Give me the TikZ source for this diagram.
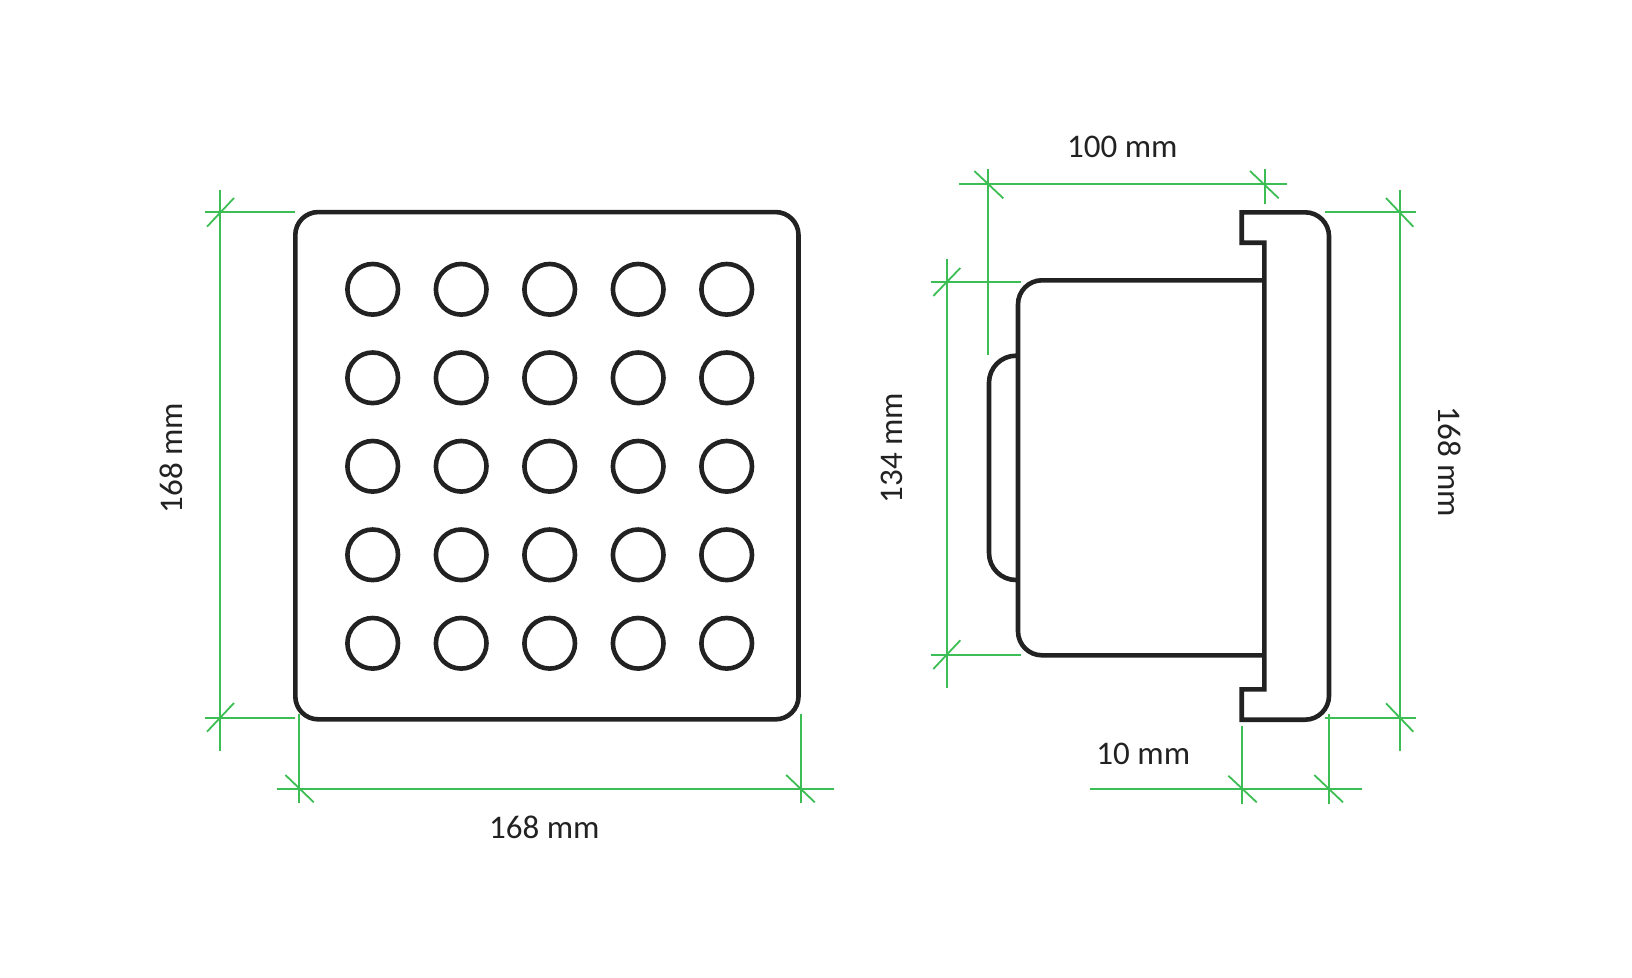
\documentclass[tikz,border=0pt]{standalone}
\usepackage{fontspec}
\setmainfont{Carlito}
\definecolor{dimgreen}{HTML}{3DBE55}
\definecolor{inkblack}{HTML}{222222}
\begin{document}
\begin{tikzpicture}[
		x=1pt, y=-1pt,
		every node/.style={font=\fontsize{33}{36}\selectfont, text=inkblack},
		outline/.style={draw=inkblack, line width=4.6pt, line join=miter},
		plate/.style={rectangle, outline, rounded corners=23pt, minimum width=503.2pt, minimum height=507.3pt},
		hole/.style={circle, outline, inner sep=0pt, minimum size=50.6pt},
		dim/.style={draw=dimgreen, line width=1.8pt}
		]
		
		% Page
		\useasboundingbox (0,0) rectangle (1632,977);
		
		% -------- Front view --------
		\node[plate] (front) at (546.9,465.7) {};
		
		% -------- Holes --------
		\node[hole] (h11) at (372.7,289.3) {};
		\node[hole] (h12) at (461.2,289.3) {};
		\node[hole] (h13) at (549.7,289.3) {};
		\node[hole] (h14) at (638.2,289.3) {};
		\node[hole] (h15) at (726.7,289.3) {};
		\node[hole] (h21) at (372.7,377.8) {};
		\node[hole] (h22) at (461.2,377.8) {};
		\node[hole] (h23) at (549.7,377.8) {};
		\node[hole] (h24) at (638.2,377.8) {};
		\node[hole] (h25) at (726.7,377.8) {};
		\node[hole] (h31) at (372.7,466.3) {};
		\node[hole] (h32) at (461.2,466.3) {};
		\node[hole] (h33) at (549.7,466.3) {};
		\node[hole] (h34) at (638.2,466.3) {};
		\node[hole] (h35) at (726.7,466.3) {};
		\node[hole] (h41) at (372.7,554.8) {};
		\node[hole] (h42) at (461.2,554.8) {};
		\node[hole] (h43) at (549.7,554.8) {};
		\node[hole] (h44) at (638.2,554.8) {};
		\node[hole] (h45) at (726.7,554.8) {};
		\node[hole] (h51) at (372.7,643.3) {};
		\node[hole] (h52) at (461.2,643.3) {};
		\node[hole] (h53) at (549.7,643.3) {};
		\node[hole] (h54) at (638.2,643.3) {};
		\node[hole] (h55) at (726.7,643.3) {};
		
		% -------- Side view --------
		\draw[outline, rounded corners=24pt] (1264.3,280.3) -- (1018,280.3) -- (1018,655.3) -- (1264.3,655.3);
		\draw[outline, rounded corners=27pt] (1018,355.7) -- (989,355.7) -- (989,580) -- (1018,580);
		\draw[outline] (1241.7,212.3) [rounded corners=24pt] -- (1329,212.3) -- (1329,719.7) [sharp corners] -- (1241.7,719.7) -- (1241.7,689.3) -- (1264.3,689.3) -- (1264.3,242.7) -- (1241.7,242.7) -- cycle;
		
		% ---- Left dimension ----
		\draw[dim] (220,190) -- (220,750.7);
		\draw[dim] (205,211.7) -- (295,211.7);
		\draw[dim] (205,718) -- (295,718);
		\draw[dim] (207,226.7) -- (234,198);
		\draw[dim] (207,731.7) -- (234,703);
		
		% ---- Bottom dimension ----
		\draw[dim] (276.7,788.7) -- (834.2,788.7);
		\draw[dim] (299,714) -- (299,803);
		\draw[dim] (801,714) -- (801,803);
		\draw[dim] (285.4,775) -- (313.8,802.3);
		\draw[dim] (786.2,775) -- (814.8,802.3);
		
		% ---- Top dimension ----
		\draw[dim] (958.7,184.3) -- (1286.7,184.3);
		\draw[dim] (988.3,169.3) -- (988.3,355);
		\draw[dim] (1265,169.3) -- (1265,204.3);
		\draw[dim] (974.3,171) -- (1003.3,198.3);
		\draw[dim] (1250,171) -- (1278.7,198.3);
		
		% ---- Depth dimension ----
		\draw[dim] (946.7,259.3) -- (946.7,688);
		\draw[dim] (931,281.7) -- (1021,281.7);
		\draw[dim] (931,655) -- (1021,655);
		\draw[dim] (933.3,296) -- (960.3,268);
		\draw[dim] (933.3,669) -- (960.3,640.3);
		
		% ---- Right dimension ----
		\draw[dim] (1400,190) -- (1400,750.7);
		\draw[dim] (1325,211.7) -- (1415.7,211.7);
		\draw[dim] (1325,717.7) -- (1415.7,717.7);
		\draw[dim] (1386,198) -- (1413.3,226.7);
		\draw[dim] (1386,703.3) -- (1413.3,731.7);
		
		% ---- Cap dimension ----
		\draw[dim] (1090,788.7) -- (1361.7,788.7);
		\draw[dim] (1241.7,726) -- (1241.7,804);
		\draw[dim] (1329,714) -- (1329,804);
		\draw[dim] (1228.3,775.7) -- (1256.7,802.3);
		\draw[dim] (1314.3,775) -- (1343,802.3);
		
		% Labels
		\node (lblleft) at (171.5,458) [rotate=90] {168 mm};
		\node (lblbottom) at (544.4,827) {168 mm};
		\node (lbltop) at (1122.3,147) {100 mm};
		\node (lbldepth) at (892,448) [rotate=90] {134 mm};
		\node (lblright) at (1450,462) [rotate=-90] {168 mm};
		\node (lblcap) at (1143.3,754) {10 mm};
		
	\end{tikzpicture}
\end{document}
